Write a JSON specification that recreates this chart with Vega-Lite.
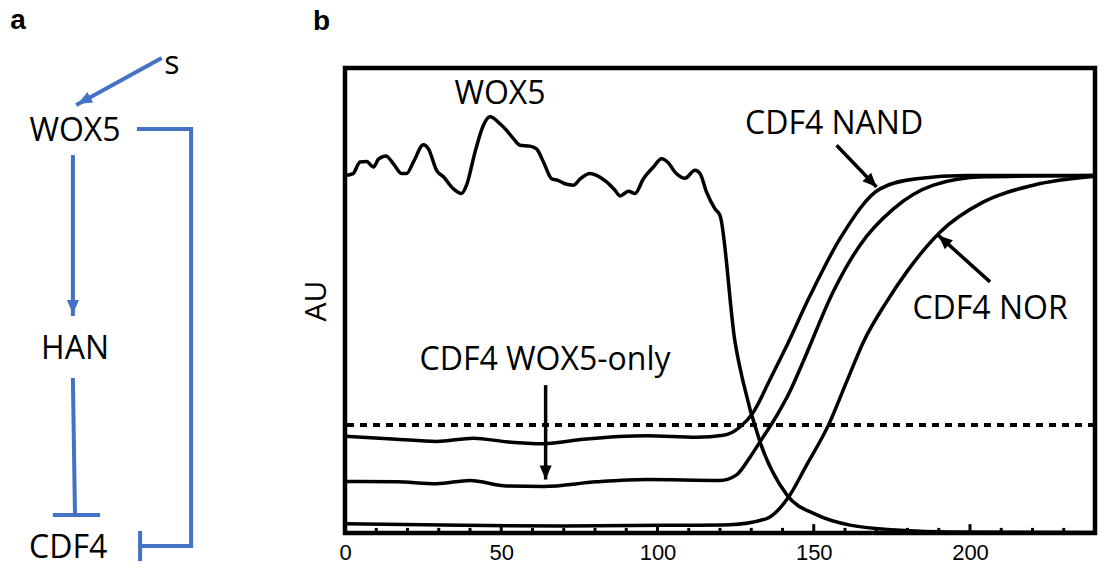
{
  "$schema": "https://vega.github.io/schema/vega-lite/v6.json",
  "background": "white",
  "padding": {"left": 0, "top": 5, "right": 0, "bottom": 0},
  "spacing": 45,
  "bounds": "flush",
  "config": {
    "font": "Open Sans",
    "view": {"stroke": "black", "strokeWidth": 4.5},
    "title": {"font": "Liberation Sans", "fontSize": 28, "fontWeight": "bold", "anchor": "start", "frame": "group", "offset": 32, "color": "black"},
    "axisX": {"ticks": false, "tickSize": 0, "domain": false, "grid": false, "labelFont": "Liberation Sans", "labelFontSize": 22, "labelColor": "black", "labelPadding": 9, "labelFlush": false},
    "axisY": {"ticks": false, "tickSize": 0, "domain": false, "grid": false, "labels": false, "titleFont": "Open Sans", "titleFontSize": 30, "titleFontWeight": "normal", "titleColor": "black", "titlePadding": 14}
  },
  "datasets": {
    "curves": [
      {"series": "WOX5", "t": 0, "au": 0.769}, {"series": "WOX5", "t": 2.6, "au": 0.773}, {"series": "WOX5", "t": 4.8, "au": 0.798}, {"series": "WOX5", "t": 6.9, "au": 0.799}, {"series": "WOX5", "t": 9.1, "au": 0.787}, {"series": "WOX5", "t": 10.7, "au": 0.804}, {"series": "WOX5", "t": 13.1, "au": 0.811}, {"series": "WOX5", "t": 15.5, "au": 0.794}, {"series": "WOX5", "t": 18.1, "au": 0.773}, {"series": "WOX5", "t": 19.7, "au": 0.773}, {"series": "WOX5", "t": 21.9, "au": 0.798}, {"series": "WOX5", "t": 25.1, "au": 0.835}, {"series": "WOX5", "t": 26.7, "au": 0.826}, {"series": "WOX5", "t": 29.3, "au": 0.78}, {"series": "WOX5", "t": 31.5, "au": 0.766}, {"series": "WOX5", "t": 34.7, "au": 0.74}, {"series": "WOX5", "t": 37.3, "au": 0.73}, {"series": "WOX5", "t": 38.9, "au": 0.748}, {"series": "WOX5", "t": 41.6, "au": 0.819}, {"series": "WOX5", "t": 44.3, "au": 0.877}, {"series": "WOX5", "t": 46.4, "au": 0.895}, {"series": "WOX5", "t": 49.6, "au": 0.88}, {"series": "WOX5", "t": 51.7, "au": 0.866}, {"series": "WOX5", "t": 53.9, "au": 0.848}, {"series": "WOX5", "t": 56, "au": 0.834}, {"series": "WOX5", "t": 59.2, "au": 0.832}, {"series": "WOX5", "t": 61.3, "au": 0.826}, {"series": "WOX5", "t": 63.5, "au": 0.798}, {"series": "WOX5", "t": 66.1, "au": 0.762}, {"series": "WOX5", "t": 68.3, "au": 0.758}, {"series": "WOX5", "t": 70.4, "au": 0.751}, {"series": "WOX5", "t": 73.1, "au": 0.748}, {"series": "WOX5", "t": 75.2, "au": 0.761}, {"series": "WOX5", "t": 78.4, "au": 0.773}, {"series": "WOX5", "t": 80.5, "au": 0.769}, {"series": "WOX5", "t": 83.7, "au": 0.755}, {"series": "WOX5", "t": 86.4, "au": 0.737}, {"series": "WOX5", "t": 88, "au": 0.725}, {"series": "WOX5", "t": 90.7, "au": 0.735}, {"series": "WOX5", "t": 92.8, "au": 0.73}, {"series": "WOX5", "t": 95.5, "au": 0.762}, {"series": "WOX5", "t": 98.7, "au": 0.787}, {"series": "WOX5", "t": 101.3, "au": 0.805}, {"series": "WOX5", "t": 103.5, "au": 0.796}, {"series": "WOX5", "t": 105.6, "au": 0.776}, {"series": "WOX5", "t": 108.8, "au": 0.763}, {"series": "WOX5", "t": 112, "au": 0.78}, {"series": "WOX5", "t": 113.6, "au": 0.773}, {"series": "WOX5", "t": 115.7, "au": 0.733}, {"series": "WOX5", "t": 118.4, "au": 0.697}, {"series": "WOX5", "t": 120, "au": 0.683}, {"series": "WOX5", "t": 124.8, "au": 0.411}, {"series": "WOX5", "t": 127.4, "au": 0.325}, {"series": "WOX5", "t": 132.8, "au": 0.196}, {"series": "WOX5", "t": 141.4, "au": 0.082}, {"series": "WOX5", "t": 151, "au": 0.039}, {"series": "WOX5", "t": 161.6, "au": 0.017}, {"series": "WOX5", "t": 177.6, "au": 0.006}, {"series": "WOX5", "t": 193.6, "au": 0.002}, {"series": "WOX5", "t": 240, "au": 0.001},
      {"series": "CDF4 NAND", "t": 0, "au": 0.208}, {"series": "CDF4 NAND", "t": 16.5, "au": 0.2015}, {"series": "CDF4 NAND", "t": 29.3, "au": 0.197}, {"series": "CDF4 NAND", "t": 41.1, "au": 0.204}, {"series": "CDF4 NAND", "t": 51.7, "au": 0.196}, {"series": "CDF4 NAND", "t": 63.5, "au": 0.192}, {"series": "CDF4 NAND", "t": 76.3, "au": 0.2015}, {"series": "CDF4 NAND", "t": 96.5, "au": 0.209}, {"series": "CDF4 NAND", "t": 112.5, "au": 0.206}, {"series": "CDF4 NAND", "t": 121.1, "au": 0.21}, {"series": "CDF4 NAND", "t": 126.4, "au": 0.228}, {"series": "CDF4 NAND", "t": 130.7, "au": 0.26}, {"series": "CDF4 NAND", "t": 136, "au": 0.33}, {"series": "CDF4 NAND", "t": 140.8, "au": 0.395}, {"series": "CDF4 NAND", "t": 148.8, "au": 0.51}, {"series": "CDF4 NAND", "t": 158.4, "au": 0.633}, {"series": "CDF4 NAND", "t": 171.2, "au": 0.74}, {"series": "CDF4 NAND", "t": 182.9, "au": 0.762}, {"series": "CDF4 NAND", "t": 198.9, "au": 0.769}, {"series": "CDF4 NAND", "t": 240, "au": 0.769},
      {"series": "CDF4 WOX5-only", "t": 0, "au": 0.111}, {"series": "CDF4 WOX5-only", "t": 16.5, "au": 0.11}, {"series": "CDF4 WOX5-only", "t": 29.3, "au": 0.106}, {"series": "CDF4 WOX5-only", "t": 40, "au": 0.113}, {"series": "CDF4 WOX5-only", "t": 51.7, "au": 0.101}, {"series": "CDF4 WOX5-only", "t": 63.5, "au": 0.1}, {"series": "CDF4 WOX5-only", "t": 80.5, "au": 0.11}, {"series": "CDF4 WOX5-only", "t": 96.5, "au": 0.115}, {"series": "CDF4 WOX5-only", "t": 120, "au": 0.113}, {"series": "CDF4 WOX5-only", "t": 125.3, "au": 0.125}, {"series": "CDF4 WOX5-only", "t": 129.6, "au": 0.163}, {"series": "CDF4 WOX5-only", "t": 132.8, "au": 0.196}, {"series": "CDF4 WOX5-only", "t": 138.1, "au": 0.252}, {"series": "CDF4 WOX5-only", "t": 142.4, "au": 0.305}, {"series": "CDF4 WOX5-only", "t": 146.7, "au": 0.37}, {"series": "CDF4 WOX5-only", "t": 156.3, "au": 0.52}, {"series": "CDF4 WOX5-only", "t": 164.8, "au": 0.619}, {"series": "CDF4 WOX5-only", "t": 175.5, "au": 0.697}, {"series": "CDF4 WOX5-only", "t": 188.3, "au": 0.748}, {"series": "CDF4 WOX5-only", "t": 204.3, "au": 0.766}, {"series": "CDF4 WOX5-only", "t": 240, "au": 0.769},
      {"series": "CDF4 NOR", "t": 0, "au": 0.02}, {"series": "CDF4 NOR", "t": 37.8, "au": 0.0166}, {"series": "CDF4 NOR", "t": 69.8, "au": 0.015}, {"series": "CDF4 NOR", "t": 101.8, "au": 0.0166}, {"series": "CDF4 NOR", "t": 123.2, "au": 0.018}, {"series": "CDF4 NOR", "t": 134.9, "au": 0.031}, {"series": "CDF4 NOR", "t": 141.9, "au": 0.077}, {"series": "CDF4 NOR", "t": 147.7, "au": 0.146}, {"series": "CDF4 NOR", "t": 154.7, "au": 0.232}, {"series": "CDF4 NOR", "t": 160.5, "au": 0.325}, {"series": "CDF4 NOR", "t": 165.9, "au": 0.411}, {"series": "CDF4 NOR", "t": 173.3, "au": 0.497}, {"series": "CDF4 NOR", "t": 179.7, "au": 0.561}, {"series": "CDF4 NOR", "t": 190.4, "au": 0.647}, {"series": "CDF4 NOR", "t": 204.3, "au": 0.712}, {"series": "CDF4 NOR", "t": 220.3, "au": 0.748}, {"series": "CDF4 NOR", "t": 240, "au": 0.767}
    ],
    "threshold": [{"au": 0.232}],
    "majorTicks": [{"t": 50}, {"t": 100}, {"t": 150}, {"t": 200}],
    "minorTicks": [{"t": 10}, {"t": 20}, {"t": 30}, {"t": 40}, {"t": 60}, {"t": 70}, {"t": 80}, {"t": 90}, {"t": 110}, {"t": 120}, {"t": 130}, {"t": 140}, {"t": 160}, {"t": 170}, {"t": 180}, {"t": 190}, {"t": 210}, {"t": 220}, {"t": 230}],
    "arrows": [
      {"name": "NAND", "t": 157.3, "au": 0.834, "t2": 170.1, "au2": 0.744},
      {"name": "NOR", "t": 206.4, "au": 0.54, "t2": 189.9, "au2": 0.64},
      {"name": "WOX5-only", "t": 64.2, "au": 0.318, "t2": 64.2, "au2": 0.115}
    ],
    "labels": [
      {"label": "WOX5", "t": 49.6, "au": 0.944},
      {"label": "CDF4 NAND", "t": 156.5, "au": 0.88},
      {"label": "CDF4 NOR", "t": 206.4, "au": 0.481},
      {"label": "CDF4 WOX5-only", "t": 64, "au": 0.372}
    ],
    "panelLabel": [{"label": "a", "x": 0.6, "y": 17.07}],
    "diagramNodes": [
      {"label": "s", "x": 5.73, "y": 15.63},
      {"label": "WOX5", "x": 2.5, "y": 13.4},
      {"label": "HAN", "x": 2.5, "y": 6.13},
      {"label": "CDF4", "x": 2.27, "y": -0.5}
    ],
    "diagramLinks": [
      {"link": "s to WOX5", "x": 5.33, "y": 15.8, "x2": 2.6, "y2": 14.3},
      {"link": "WOX5 to HAN", "x": 2.43, "y": 12.53, "x2": 2.43, "y2": 7.3},
      {"link": "HAN inhibits CDF4", "x": 2.43, "y": 5.1, "x2": 2.5, "y2": 0.6},
      {"link": "HAN inhibits CDF4 bar", "x": 1.83, "y": 0.6, "x2": 3.27, "y2": 0.6},
      {"link": "WOX5 inhibits CDF4 top", "x": 4.63, "y": 13.47, "x2": 6.37, "y2": 13.47},
      {"link": "WOX5 inhibits CDF4 side", "x": 6.37, "y": 13.47, "x2": 6.37, "y2": -0.43},
      {"link": "WOX5 inhibits CDF4 bottom", "x": 6.37, "y": -0.43, "x2": 4.67, "y2": -0.43},
      {"link": "WOX5 inhibits CDF4 bar", "x": 4.67, "y": 0.0, "x2": 4.67, "y2": -0.87}
    ],
    "diagramHeads": [
      {"name": "s to WOX5", "x": 2.6, "y": 14.3},
      {"name": "WOX5 to HAN", "x": 2.43, "y": 7.3}
    ]
  },
  "hconcat": [
    {
      "width": 300,
      "height": 465,
      "view": {"stroke": null},
      "layer": [
        {
          "data": {"name": "diagramLinks"},
          "mark": {"type": "rule", "color": "#4472C4", "strokeWidth": 4, "strokeCap": "square"},
          "encoding": {
            "x": {"field": "x", "type": "quantitative", "scale": {"domain": [0, 10], "nice": false, "zero": false}, "axis": null},
            "y": {"field": "y", "type": "quantitative", "scale": {"domain": [0, 15.5], "nice": false, "zero": false}, "axis": null},
            "x2": {"field": "x2"},
            "y2": {"field": "y2"}
          }
        },
        {
          "data": {"name": "diagramHeads"},
          "transform": [{"filter": "datum.name === 's to WOX5'"}],
          "mark": {"type": "point", "shape": "M0,0L0.43,1L-0.43,1Z", "filled": true, "color": "#4472C4", "opacity": 1, "size": 784, "angle": 241, "strokeWidth": 0},
          "encoding": {
            "x": {"field": "x", "type": "quantitative", "scale": {"domain": [0, 10], "nice": false, "zero": false}, "axis": null},
            "y": {"field": "y", "type": "quantitative", "scale": {"domain": [0, 15.5], "nice": false, "zero": false}, "axis": null}
          }
        },
        {
          "data": {"name": "diagramHeads"},
          "transform": [{"filter": "datum.name === 'WOX5 to HAN'"}],
          "mark": {"type": "point", "shape": "M0,0L0.43,1L-0.43,1Z", "filled": true, "color": "#4472C4", "opacity": 1, "size": 784, "angle": 180, "strokeWidth": 0},
          "encoding": {
            "x": {"field": "x", "type": "quantitative", "scale": {"domain": [0, 10], "nice": false, "zero": false}, "axis": null},
            "y": {"field": "y", "type": "quantitative", "scale": {"domain": [0, 15.5], "nice": false, "zero": false}, "axis": null}
          }
        },
        {
          "data": {"name": "diagramNodes"},
          "mark": {"type": "text", "font": "Open Sans", "fontSize": 32, "color": "black", "align": "center", "baseline": "middle"},
          "encoding": {
            "x": {"field": "x", "type": "quantitative", "scale": {"domain": [0, 10], "nice": false, "zero": false}, "axis": null},
            "y": {"field": "y", "type": "quantitative", "scale": {"domain": [0, 15.5], "nice": false, "zero": false}, "axis": null},
            "text": {"field": "label"}
          }
        },
        {
          "data": {"name": "panelLabel"},
          "mark": {"type": "text", "font": "Liberation Sans", "fontSize": 28, "fontWeight": "bold", "color": "black", "align": "center", "baseline": "middle"},
          "encoding": {
            "x": {"field": "x", "type": "quantitative", "scale": {"domain": [0, 10], "nice": false, "zero": false}, "axis": null},
            "y": {"field": "y", "type": "quantitative", "scale": {"domain": [0, 15.5], "nice": false, "zero": false}, "axis": null},
            "text": {"field": "label"}
          }
        }
      ]
    },
    {
      "width": 750,
      "height": 465,
      "title": {"text": "b", "dx": -32},
      "layer": [
        {
          "data": {"name": "minorTicks"},
          "mark": {"type": "rule", "color": "black", "strokeWidth": 3},
          "encoding": {
            "x": {"field": "t", "type": "quantitative", "title": null, "scale": {"domain": [0, 240], "nice": false, "zero": false}, "axis": {"values": [0, 50, 100, 150, 200]}},
            "y": {"datum": 0, "type": "quantitative", "title": "AU", "scale": {"domain": [0, 1], "nice": false, "zero": false}},
            "y2": {"datum": 0.011}
          }
        },
        {
          "data": {"name": "majorTicks"},
          "mark": {"type": "rule", "color": "black", "strokeWidth": 3},
          "encoding": {
            "x": {"field": "t", "type": "quantitative", "title": null, "scale": {"domain": [0, 240], "nice": false, "zero": false}},
            "y": {"datum": 0, "type": "quantitative", "title": "AU", "scale": {"domain": [0, 1], "nice": false, "zero": false}},
            "y2": {"datum": 0.019}
          }
        },
        {
          "data": {"name": "threshold"},
          "mark": {"type": "rule", "color": "black", "strokeWidth": 4, "strokeDash": [7, 6]},
          "encoding": {
            "y": {"field": "au", "type": "quantitative", "title": "AU", "scale": {"domain": [0, 1], "nice": false, "zero": false}}
          }
        },
        {
          "data": {"name": "curves"},
          "mark": {"type": "line", "color": "black", "strokeWidth": 3.5, "interpolate": "monotone"},
          "encoding": {
            "x": {"field": "t", "type": "quantitative", "title": null, "scale": {"domain": [0, 240], "nice": false, "zero": false}},
            "y": {"field": "au", "type": "quantitative", "title": "AU", "scale": {"domain": [0, 1], "nice": false, "zero": false}},
            "detail": {"field": "series", "type": "nominal"}
          }
        },
        {
          "data": {"name": "arrows"},
          "mark": {"type": "rule", "color": "black", "strokeWidth": 3.5},
          "encoding": {
            "x": {"field": "t", "type": "quantitative", "title": null, "scale": {"domain": [0, 240], "nice": false, "zero": false}},
            "y": {"field": "au", "type": "quantitative", "title": "AU", "scale": {"domain": [0, 1], "nice": false, "zero": false}},
            "x2": {"field": "t2"},
            "y2": {"field": "au2"}
          }
        },
        {
          "data": {"name": "arrows"},
          "transform": [{"filter": "datum.name === 'NAND'"}],
          "mark": {"type": "point", "shape": "M0,0L0.43,1L-0.43,1Z", "filled": true, "color": "black", "opacity": 1, "size": 784, "angle": 136, "strokeWidth": 0},
          "encoding": {
            "x": {"field": "t2", "type": "quantitative", "title": null, "scale": {"domain": [0, 240], "nice": false, "zero": false}},
            "y": {"field": "au2", "type": "quantitative", "title": "AU", "scale": {"domain": [0, 1], "nice": false, "zero": false}}
          }
        },
        {
          "data": {"name": "arrows"},
          "transform": [{"filter": "datum.name === 'NOR'"}],
          "mark": {"type": "point", "shape": "M0,0L0.43,1L-0.43,1Z", "filled": true, "color": "black", "opacity": 1, "size": 784, "angle": 312, "strokeWidth": 0},
          "encoding": {
            "x": {"field": "t2", "type": "quantitative", "title": null, "scale": {"domain": [0, 240], "nice": false, "zero": false}},
            "y": {"field": "au2", "type": "quantitative", "title": "AU", "scale": {"domain": [0, 1], "nice": false, "zero": false}}
          }
        },
        {
          "data": {"name": "arrows"},
          "transform": [{"filter": "datum.name === 'WOX5-only'"}],
          "mark": {"type": "point", "shape": "M0,0L0.43,1L-0.43,1Z", "filled": true, "color": "black", "opacity": 1, "size": 784, "angle": 180, "strokeWidth": 0},
          "encoding": {
            "x": {"field": "t2", "type": "quantitative", "title": null, "scale": {"domain": [0, 240], "nice": false, "zero": false}},
            "y": {"field": "au2", "type": "quantitative", "title": "AU", "scale": {"domain": [0, 1], "nice": false, "zero": false}}
          }
        },
        {
          "data": {"name": "labels"},
          "mark": {"type": "text", "font": "Open Sans", "fontSize": 32, "color": "black", "align": "center", "baseline": "middle"},
          "encoding": {
            "x": {"field": "t", "type": "quantitative", "title": null, "scale": {"domain": [0, 240], "nice": false, "zero": false}},
            "y": {"field": "au", "type": "quantitative", "title": "AU", "scale": {"domain": [0, 1], "nice": false, "zero": false}},
            "text": {"field": "label"}
          }
        }
      ]
    }
  ]
}
